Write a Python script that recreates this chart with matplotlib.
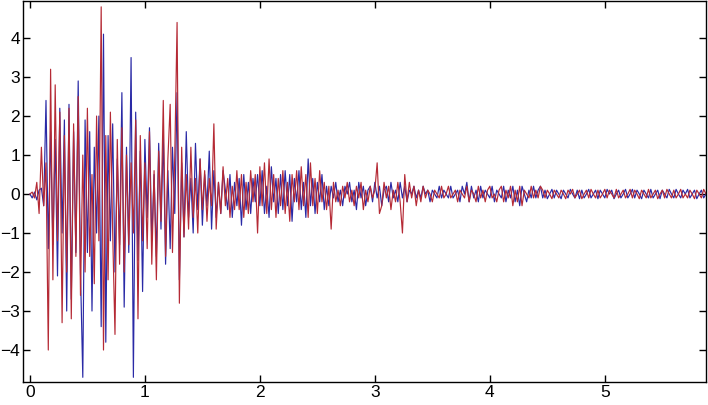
import numpy as np
import matplotlib
matplotlib.use('Agg')
import matplotlib.pyplot as plt

# sample spacing of both traces (s)
dt = 0.02

# blue trace, 10 samples per row (0.2 s per row)
blue = [
    0.0, -0.1, 0.05, -0.15, 0.1, 0.15, -0.3, 2.4, -1.4, 1.6,
    -1.3, 1.4, -2.1, 2.2, -1.0, 1.9, -3.0, 2.3, -2.7, 1.6,
    -1.5, 2.9, -2.0, -4.7, 1.9, -1.5, 1.6, -3.0, 1.2, -1.0,
    2.0, -3.4, 4.1, -3.8, 1.5, -1.2, 1.8, -2.0, 0.9, -1.3,
    2.6, -2.9, 1.2, -1.5, 3.5, -4.7, 2.1, -1.7, 1.1, -2.5,
    1.4, -0.6, 1.7, -1.2, 0.5, -1.6, 1.3, -0.9, 1.5, -1.8,
    0.6, -1.4, 1.2, -0.5, 2.6, -2.2, 0.8, -1.1, 1.6, -0.6,
    0.4, -1.0, 1.3, -0.4, 0.9, -0.8, 0.5, -0.3, 1.1, -0.9,
    0.6, -0.6, 0.3, -0.5, 0.6, 0.1, -0.4, 0.5, -0.6, 0.3,
    -0.3, 0.4, -0.8, 0.5, -0.4, 0.3, -0.5, 0.4, -0.2, 0.5,
    -0.3, 0.6, -0.5, 0.2, -0.6, 0.7, -0.2, 0.4, -0.5, 0.5,
    -0.4, 0.6, -0.3, 0.5, -0.7, 0.4, -0.2, 0.6, -0.4, 0.3,
    -0.6, 0.9, -0.3, 0.4, -0.5, 0.3, -0.2, 0.5, -0.4, 0.2,
    -0.3, 0.2, -0.1, 0.3, -0.2, 0.1, -0.3, 0.2, 0.0, 0.3,
    -0.2, 0.1, -0.4, 0.3, -0.1, 0.2, -0.3, 0.1, 0.2, -0.2,
    0.3, -0.1, 0.2, -0.3, 0.1, 0.2, -0.2, 0.3, -0.1, 0.1,
    -0.2, 0.3, -0.1, 0.2, -0.2, 0.1, 0.0, 0.2, -0.1, 0.1,
    -0.1, 0.2, 0.0, 0.1, -0.2, 0.1, 0.0, -0.1, 0.2, -0.1,
    0.1, 0.0, -0.1, 0.2, -0.1, 0.0, 0.1, -0.2, 0.2, 0.0,
    0.3, -0.2, 0.2, -0.1, 0.1, -0.2, 0.2, -0.1, 0.1, 0.0,
    -0.1, 0.2, -0.2, 0.1, 0.0, -0.1, 0.2, -0.2, 0.1, -0.1,
    0.2, -0.2, 0.1, -0.3, 0.2, 0.0, -0.2, 0.1, -0.1, 0.2,
    -0.1, 0.1, 0.2, -0.1, 0.1, -0.12, 0.0, 0.12, -0.1, 0.1,
    0.0, -0.12, 0.1, 0.0, -0.1, 0.12, 0.0, -0.1, 0.1, -0.12,
    0.1, -0.1, 0.0, 0.12, -0.1, 0.0, 0.1, -0.12, 0.1, 0.0,
    -0.1, 0.12, 0.0, 0.1, -0.12, 0.0, 0.1, -0.1, 0.0, 0.12,
    -0.1, 0.0, 0.12, -0.1, 0.1, 0.0, -0.12, 0.1, 0.0, -0.1,
    0.12, -0.1, 0.0, 0.1, -0.12, 0.1, 0.0, -0.1, 0.12, 0.0,
    -0.1, 0.12, 0.0, -0.1, 0.1, 0.0, 0.12, -0.1, 0.0, 0.1,
    -0.12, 0.0, 0.1, -0.1, 0.0,
]

# red trace, same spacing
red = [
    0.0, 0.05, -0.1, 0.3, -0.5, 1.2, -0.3, 0.8, -4.0, 3.2,
    -2.2, 2.8, -1.2, 2.1, -3.3, 1.5, -2.0, 2.2, -3.2, 1.8,
    -1.6, 2.5, -2.6, 1.0, -2.0, 2.2, -1.6, 0.5, -2.3, 2.0,
    -1.2, 4.8, -4.0, 1.5, -2.2, 2.1, -1.0, -3.6, 1.4, -1.8,
    1.7, -2.0, 1.0, -1.3, 0.8, -1.0, 1.9, -3.2, 1.5, -1.2,
    0.8, -1.4, 1.6, -1.8, 0.6, -2.2, 1.1, -0.7, 2.4, -1.6,
    0.9, 2.3, -1.5, 1.0, 4.4, -2.8, 1.2, -1.1, 0.5, -0.9,
    1.2, -0.6, 0.4, -1.0, 0.9, -0.4, 0.6, -0.7, 0.4, -0.3,
    1.8, -0.9, 0.3, -0.5, 0.7, -0.3, 0.4, -0.6, 0.2, -0.4,
    0.6, -0.4, 0.5, -0.6, 0.3, -0.5, 0.6, -0.2, 0.5, -1.0,
    0.7, -0.3, 0.8, -0.5, 0.9, -0.4, 0.5, -0.6, 0.4, -0.3,
    0.6, -0.5, 0.3, -0.7, 0.5, -0.2, 0.6, -0.4, 0.7, -0.3,
    0.5, -0.6, 0.8, -0.3, 0.4, -0.5, 0.6, -0.2, 0.3, -0.4,
    0.2, -0.9, 0.3, -0.2, 0.1, -0.3, 0.2, -0.1, 0.3, -0.2,
    0.1, -0.3, 0.2, -0.1, 0.3, -0.4, 0.1, -0.2, 0.2, -0.1,
    0.1, 0.8, -0.5, -0.3, 0.3, -0.1, 0.2, -0.4, 0.1, -0.2,
    0.3, -0.2, -1.0, 0.5, -0.2, 0.3, -0.1, 0.2, -0.3, 0.1,
    -0.2, 0.2, -0.1, 0.1, 0.0, -0.2, 0.1, 0.0, -0.1, 0.2,
    -0.1, 0.0, 0.2, -0.1, 0.0, 0.1, -0.2, 0.1, 0.0, -0.1,
    0.2, -0.2, 0.1, 0.0, -0.2, 0.2, -0.1, 0.1, -0.2, 0.1,
    0.2, -0.1, 0.0, -0.2, 0.1, 0.2, -0.2, 0.1, -0.1, 0.2,
    -0.3, 0.1, -0.2, 0.2, -0.3, 0.1, 0.0, -0.1, 0.2, -0.1,
    0.1, -0.1, 0.2, 0.1, -0.1, 0.1, 0.0, -0.12, 0.1, 0.0,
    -0.1, 0.1, 0.0, -0.12, 0.1, 0.0, 0.12, -0.1, 0.0, 0.1,
    -0.12, 0.0, 0.1, -0.1, 0.12, 0.0, -0.1, 0.1, -0.1, 0.0,
    0.12, -0.1, 0.1, 0.0, -0.1, 0.12, -0.1, 0.0, 0.1, -0.1,
    0.0, 0.12, -0.1, 0.1, 0.0, -0.12, 0.1, 0.0, -0.1, 0.12,
    -0.1, 0.0, 0.1, -0.12, 0.0, 0.1, -0.1, 0.12, 0.0, -0.1,
    0.1, -0.1, 0.0, 0.12, -0.1, 0.0, -0.1, 0.1, 0.0, -0.12,
    0.1, 0.0, -0.1, 0.12, 0.0,
]

xticks = [0, 1, 2, 3, 4, 5]
yticks = [-4, -3, -2, -1, 0, 1, 2, 3, 4]

plt.rcParams['font.family'] = ['Liberation Sans', 'DejaVu Sans']

fig = plt.figure(figsize=(7.08, 4.05), dpi=100)
ax = fig.add_axes([23 / 708, 23 / 405, 683 / 708, 381 / 405])

t_blue = np.arange(len(blue)) * dt
t_red = np.arange(len(red)) * dt
ax.plot(t_blue, blue, color='#2a2aa6', linewidth=0.85)
ax.plot(t_red, red, color='#b52a35', linewidth=0.85)

ax.set_xlim(-0.06, 5.88)
ax.set_ylim(-4.82, 4.95)
ax.set_xticks(xticks)
ax.set_yticks(yticks)
ax.tick_params(direction='in', length=5, width=1, labelsize=12.5,
               top=True, right=True, pad=2)
for s in ax.spines.values():
    s.set_linewidth(1.0)

fig.savefig('out.png', dpi=100)
